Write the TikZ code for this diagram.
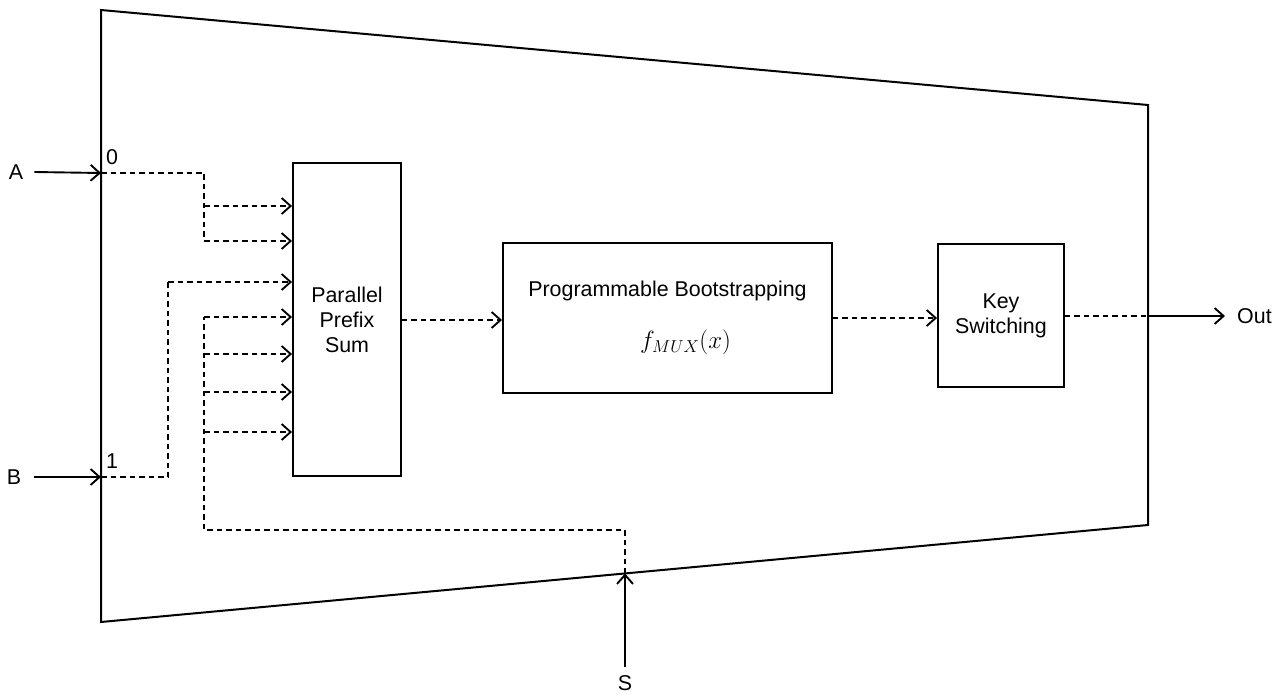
\documentclass[tikz,border=0pt]{standalone}
\usepackage{fontspec}
\setmainfont{Liberation Sans}
\usetikzlibrary{arrows.meta}
\begin{document}
\begin{tikzpicture}[x=1pt,y=-1pt,
  txt/.style={font=\fontsize{21.4}{25}\selectfont, inner sep=0pt},
  blk/.style={draw, line width=1.9pt, inner sep=0pt, align=center,
              font=\fontsize{21.4}{25}\selectfont},
  sig/.style={line width=1.9pt, -{Straight Barb[length=9pt,width=16pt,line width=1.9pt]}},
  dsig/.style={sig, dash pattern=on 5.5pt off 4pt},
  dln/.style={line width=1.9pt, dash pattern=on 5.5pt off 4pt}]
\useasboundingbox (0,0) rectangle (1285,695);

% multiplexer outline
\coordinate (tl) at (101,10);
\coordinate (tr) at (1148,105);
\coordinate (br) at (1148,525);
\coordinate (bl) at (101,622);
\draw[line width=2pt, line join=miter] (tl) -- (tr) -- (br) -- (bl) -- cycle;

% ports on the outline
\coordinate (inA) at (101,173);
\coordinate (inB) at (101,477);
\coordinate (inS) at (625,573.5);
\coordinate (outP) at (1148,316);

% processing blocks
\node[blk, minimum width=108pt, minimum height=313pt] (pps) at (347,319.5)
  {Parallel\\Prefix\\Sum};
\node[blk, minimum width=329pt, minimum height=150pt] (pb) at (667.5,318)
  {Programmable Bootstrapping\\[27pt]\hspace*{36pt}{\fontsize{27}{30}\selectfont$f_{MUX}(x)$}};
\node[blk, minimum width=126pt, minimum height=143pt] (ks) at (1001,315.5)
  {Key\\Switching};

% external signal labels
\node[txt] (A) at (16,172) {A};
\node[txt] (B) at (14,477) {B};
\node[txt] (S) at (625,683) {S};
\node[txt, anchor=west] (Out) at (1237,316) {Out};
\node[txt] (l0) at (112,157) {0};
\node[txt] (l1) at (112,461) {1};

% inputs into the multiplexer
\draw[sig] ([xshift=11pt]A.east) -- (inA);
\draw[sig] ([xshift=13pt]B.east) -- (inB);
\draw[sig] ([yshift=8pt]S.north) -- (inS);

% input 0 fan-out
\coordinate (jA) at (204,173);
\draw[dln] (inA) -- (jA) -- (jA |- 0,241);
\draw[dsig] (jA |- 0,206) -- (pps.west |- 0,206);
\draw[dsig] (jA |- 0,241) -- (pps.west |- 0,241);

% input 1
\coordinate (jB) at (168,477);
\draw[dln] (inB) -- (jB) -- (jB |- 0,282);
\draw[dsig] (jB |- 0,282) -- (pps.west |- 0,282);

% select fan-out
\coordinate (jS) at (204,530);
\draw[dln] (inS) -- (inS |- jS) -- (jS) -- (jS |- 0,317);
\foreach \yy in {317,354,392,432}
  \draw[dsig] (jS |- 0,\yy) -- (pps.west |- 0,\yy);

% main data path
\draw[dsig] (pps.east |- 0,320) -- (pb.west |- 0,320);
\draw[dsig] (pb.east |- 0,318) -- (ks.west |- 0,318);
\draw[dln] (ks.east |- outP) -- (outP);
\draw[sig] (outP) -- ([xshift=-12pt]Out.west);
\end{tikzpicture}
\end{document}
